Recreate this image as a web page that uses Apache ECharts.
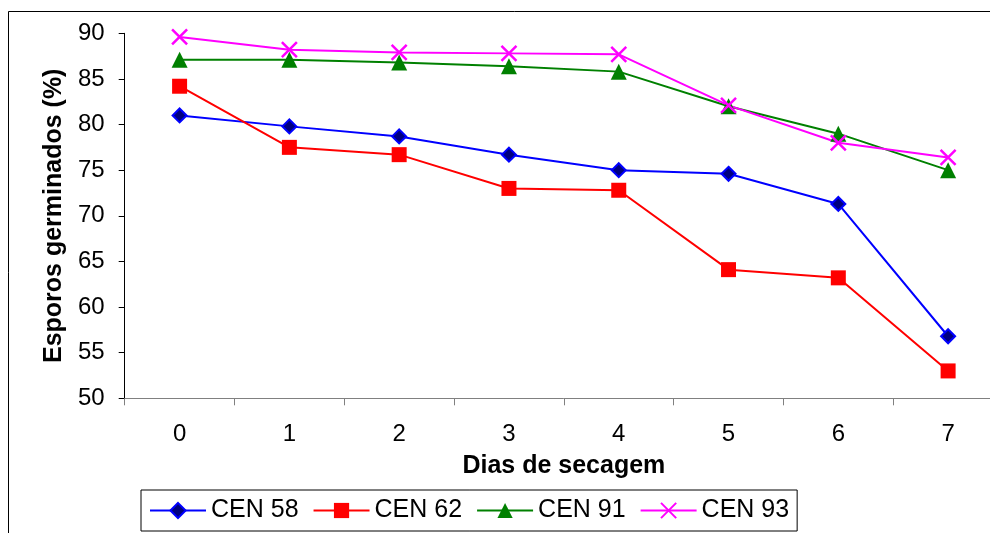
<!DOCTYPE html>
<html>
<head>
<meta charset="utf-8">
<script src="https://cdn.jsdelivr.net/npm/echarts@6/dist/echarts.min.js"></script>
<style>html,body{margin:0;padding:0;background:#fff;overflow:hidden}#c{width:1020px;height:533px}</style>
</head>
<body>
<div id="c"></div>
<script>
const categories = ['0', '1', '2', '3', '4', '5', '6', '7'];
const cen58 = [81.0, 79.8, 78.7, 76.7, 75.0, 74.6, 71.3, 56.8];
const cen62 = [84.2, 77.5, 76.7, 73.0, 72.8, 64.1, 63.2, 53.0];
const cen91 = [87.1, 87.1, 86.8, 86.4, 85.8, 82.0, 79.0, 75.0];
const cen93 = [89.6, 88.2, 87.9, 87.8, 87.7, 82.1, 78.0, 76.4];
const seriesNames = ['CEN 58', 'CEN 62', 'CEN 91', 'CEN 93'];
const xTitle = 'Dias de secagem';
const yTitle = 'Esporos germinados (%)';

const FONT = 'Arial, "Liberation Sans", sans-serif';
const chart = echarts.init(document.getElementById('c'), null, {renderer: 'canvas'});
const xPath = 'path://M0,0L10,10M10,0L0,10';
chart.setOption({
  animation: false,
  backgroundColor: '#fff',
  graphic: [{
    type: 'rect', shape: {x: 8.5, y: 11.5, width: 1100, height: 700},
    style: {fill: 'none', stroke: '#000', lineWidth: 1}, silent: true, z: -1
  }],
  grid: {left: 124.7, top: 33.3, width: 878.3, bottom: 134.7, containLabel: false, outerBoundsMode: 'none'},
  legend: {
    left: 141, top: 490,
    padding: [8, 8, 8, 8],
    borderColor: '#000', borderWidth: 1,
    itemWidth: 56, itemHeight: 19, itemGap: 14,
    textStyle: {fontFamily: FONT, fontSize: 25, color: '#000'},
    data: seriesNames
  },
  xAxis: {
    type: 'category', data: categories, boundaryGap: true,
    name: xTitle, nameLocation: 'middle', nameGap: 55,
    nameTextStyle: {fontFamily: FONT, fontSize: 25, fontWeight: 'bold', color: '#000'},
    axisLine: {show: true, lineStyle: {color: '#808080', width: 1}},
    axisTick: {show: true, length: 7, lineStyle: {color: '#808080'}},
    axisLabel: {fontFamily: FONT, fontSize: 24, color: '#000', margin: 24},
    splitLine: {show: false}
  },
  yAxis: {
    type: 'value', min: 50, max: 90, interval: 5,
    name: yTitle, nameLocation: 'middle', nameGap: 57,
    nameTextStyle: {fontFamily: FONT, fontSize: 25, fontWeight: 'bold', color: '#000'},
    axisLine: {show: true, lineStyle: {color: '#000', width: 1}},
    axisTick: {show: true, length: 6, lineStyle: {color: '#000'}},
    axisLabel: {fontFamily: FONT, fontSize: 24, color: '#000', margin: 20},
    splitLine: {show: false}
  },
  series: [
    {name: seriesNames[0], type: 'line', data: cen58, symbol: 'diamond', symbolSize: 14,
     lineStyle: {color: '#0000ff', width: 2},
     itemStyle: {color: '#000080', borderColor: '#0000ff', borderWidth: 2}},
    {name: seriesNames[1], type: 'line', data: cen62, symbol: 'rect', symbolSize: 15,
     lineStyle: {color: '#ff0000', width: 2},
     itemStyle: {color: '#ff0000'}},
    {name: seriesNames[2], type: 'line', data: cen91, symbol: 'triangle', symbolSize: 16,
     lineStyle: {color: '#008000', width: 2},
     itemStyle: {color: '#008000'}},
    {name: seriesNames[3], type: 'line', data: cen93, symbol: xPath, symbolSize: 15,
     lineStyle: {color: '#ff00ff', width: 2},
     itemStyle: {color: '#ff00ff', borderColor: '#ff00ff', borderWidth: 2.5}}
  ]
});
</script>
</body>
</html>
